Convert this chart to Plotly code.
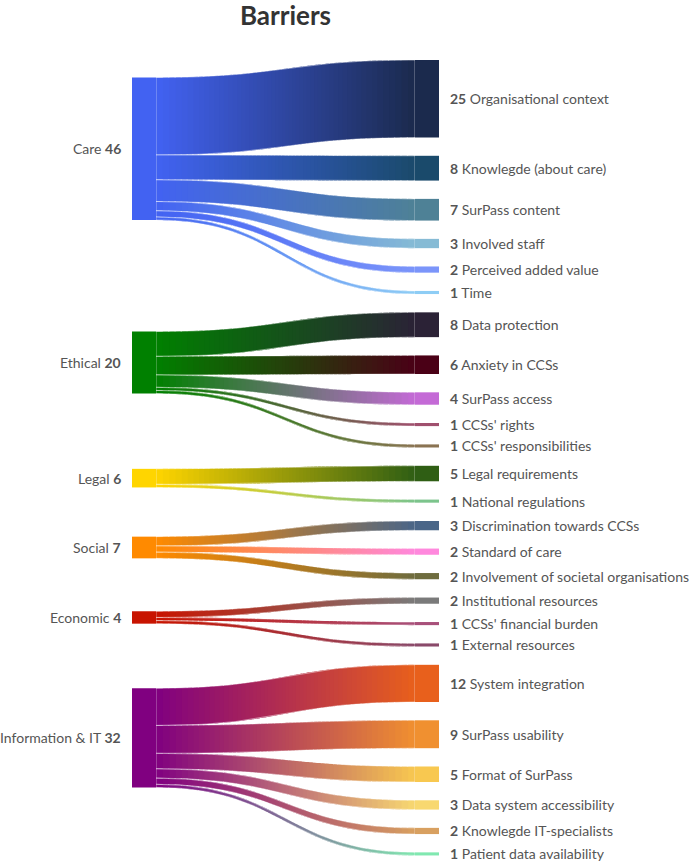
import plotly.graph_objects as go

# ---- data -------------------------------------------------------------
title = "Barriers"

sources = ["Care", "Ethical", "Legal", "Social", "Economic", "Information & IT"]
source_colors = ["#4262f2", "#008000", "#ffd500", "#ff8a00", "#c81400", "#800080"]

targets = [
    "Organisational context", "Knowlegde (about care)", "SurPass content",
    "Involved staff", "Perceived added value", "Time",
    "Data protection", "Anxiety in CCSs", "SurPass access", "CCSs' rights",
    "CCSs' responsibilities",
    "Legal requirements", "National regulations",
    "Discrimination towards CCSs", "Standard of care",
    "Involvement of societal organisations",
    "Institutional resources", "CCSs' financial burden", "External resources",
    "System integration", "SurPass usability", "Format of SurPass",
    "Data system accessibility", "Knowlegde IT-specialists",
    "Patient data availability",
]
target_source = (["Care"] * 6 + ["Ethical"] * 5 + ["Legal"] * 2 + ["Social"] * 3
                 + ["Economic"] * 3 + ["Information & IT"] * 6)
values = [25, 8, 7, 3, 2, 1,
          8, 6, 4, 1, 1,
          5, 1,
          3, 2, 2,
          2, 1, 1,
          12, 9, 5, 3, 2, 1]
target_colors = [
    "#1b2a4d", "#1a4a6b", "#4e8196", "#86bbd5", "#7b95fa", "#8ecdf5",
    "#2b2236", "#4a0016", "#c46ad6", "#a0506e", "#8a7352",
    "#2f5e14", "#7cc48c",
    "#4a6688", "#ff88dd", "#6e6c3e",
    "#7a7a7a", "#a8507a", "#8a4a6a",
    "#e8601c", "#f09030", "#f8c850", "#f8d870", "#d8a060", "#80e8b0",
]

# ---- layout constants ---------------------------------------------------
W, H = 696, 865
PX_PER_UNIT = 3.1
TOP_PX = 60
GAP = 5.9            # gap between right nodes, in value units
X_LEFT = 132
NODE_W = 24
X_RIGHT = 415
N_SLICES = 56
SUB = 2
FONT = "Lato"


def hex_rgb(h):
    h = h.lstrip("#")
    return [int(h[i:i + 2], 16) for i in (0, 2, 4)]


def mix(c1, c2, f):
    a, b = hex_rgb(c1), hex_rgb(c2)
    return "rgb(%d,%d,%d)" % tuple(round(a[i] + (b[i] - a[i]) * f) for i in range(3))


def bez(t, p0, p1, xm0, xm1):
    u = 1 - t
    return u ** 3 * p0 + 3 * u * u * t * xm0 + 3 * u * t * t * xm1 + t ** 3 * p1


# right column positions
t_top = []
pos = 0.0
for i, v in enumerate(values):
    t_top.append(pos)
    pos += v + GAP
t_center = [t_top[i] + values[i] / 2 for i in range(len(values))]

# left column: centred on weighted mean of its targets
s_top = {}
s_val = {}
for s in sources:
    idx = [i for i, ts in enumerate(target_source) if ts == s]
    tot = sum(values[i] for i in idx)
    c = sum(values[i] * t_center[i] for i in idx) / tot
    s_top[s] = c - tot / 2
    s_val[s] = tot

fig = go.Figure()

x0 = X_LEFT + NODE_W
x1 = X_RIGHT
xm = (x0 + x1) / 2
offset = {s: 0.0 for s in sources}

for i, v in enumerate(values):
    s = target_source[i]
    sc = source_colors[sources.index(s)]
    tc = target_colors[i]
    ys0 = s_top[s] + offset[s]
    offset[s] += v
    yt0 = t_top[i]
    # gradient: slices drawn left to right, each overlapping the next a little
    for j in range(N_SLICES):
        t_end = min(1.0, (j + 1.8) / N_SLICES)
        ts = [j / N_SLICES + (t_end - j / N_SLICES) * k / SUB for k in range(SUB + 1)]
        xs = [bez(t, x0, x1, xm, xm) for t in ts]
        top = [bez(t, ys0, yt0, ys0, yt0) for t in ts]
        bot = [y + v for y in top]
        xa = bez(j / N_SLICES, x0, x1, xm, xm)
        xb = bez((j + 1) / N_SLICES, x0, x1, xm, xm)
        f = ((xa + xb) / 2 - x0) / (x1 - x0)
        col = mix(sc, tc, f)
        fig.add_trace(go.Scatter(
            x=xs + xs[::-1], y=top + bot[::-1], mode="lines", fill="toself",
            fillcolor=col, line=dict(width=0),
            hoverinfo="skip", showlegend=False))
    ts = [k / 60 for k in range(61)]
    xs = [bez(t, x0, x1, xm, xm) for t in ts]
    top = [bez(t, ys0, yt0, ys0, yt0) for t in ts]
    bot = [y + v for y in top]
    fig.add_trace(go.Scatter(
        x=xs + xs[::-1] + [xs[0]], y=top + bot[::-1] + [top[0]],
        mode="lines", line=dict(color="rgba(255,255,255,0.6)", width=0.8),
        hoverinfo="skip", showlegend=False))


def rect(xa, xb, ya, yb, col):
    fig.add_trace(go.Scatter(
        x=[xa, xb, xb, xa, xa], y=[ya, ya, yb, yb, ya], mode="lines",
        fill="toself", fillcolor=col, line=dict(width=0),
        hoverinfo="skip", showlegend=False))


annotations = []
for s, c in zip(sources, source_colors):
    rect(X_LEFT, X_LEFT + NODE_W, s_top[s], s_top[s] + s_val[s], c)
    annotations.append(dict(
        x=X_LEFT - 9, y=s_top[s] + s_val[s] / 2, xref="x", yref="y",
        text="%s <b>%d</b>" % (s, s_val[s]), showarrow=False, xanchor="right",
        yanchor="middle", font=dict(family=FONT, size=14, color="#555555")))

for i, (t, v) in enumerate(zip(targets, values)):
    rect(X_RIGHT, X_RIGHT + NODE_W, t_top[i], t_top[i] + v, target_colors[i])
    annotations.append(dict(
        x=X_RIGHT + NODE_W + 9, y=t_center[i], xref="x", yref="y",
        text="<b>%d</b> %s" % (v, t), showarrow=False, xanchor="left",
        yanchor="middle", font=dict(family=FONT, size=14, color="#555555")))

y_lo = -TOP_PX / PX_PER_UNIT
y_hi = (H - TOP_PX) / PX_PER_UNIT

fig.update_layout(
    width=W, height=H,
    margin=dict(l=0, r=0, t=0, b=0),
    paper_bgcolor="white", plot_bgcolor="white",
    xaxis=dict(range=[0, W], visible=False, fixedrange=True),
    yaxis=dict(range=[y_hi, y_lo], visible=False, fixedrange=True),
    annotations=annotations,
    title=dict(text="<b>%s</b>" % title, x=(X_LEFT + X_RIGHT + NODE_W) / 2 / W,
               xanchor="center", y=1 - 16 / H, yanchor="middle",
               font=dict(family=FONT, size=26, color="#333333")),
)

fig.write_html("out.html", config={"displayModeBar": False},
               post_script="document.body.style.margin = '0';")
